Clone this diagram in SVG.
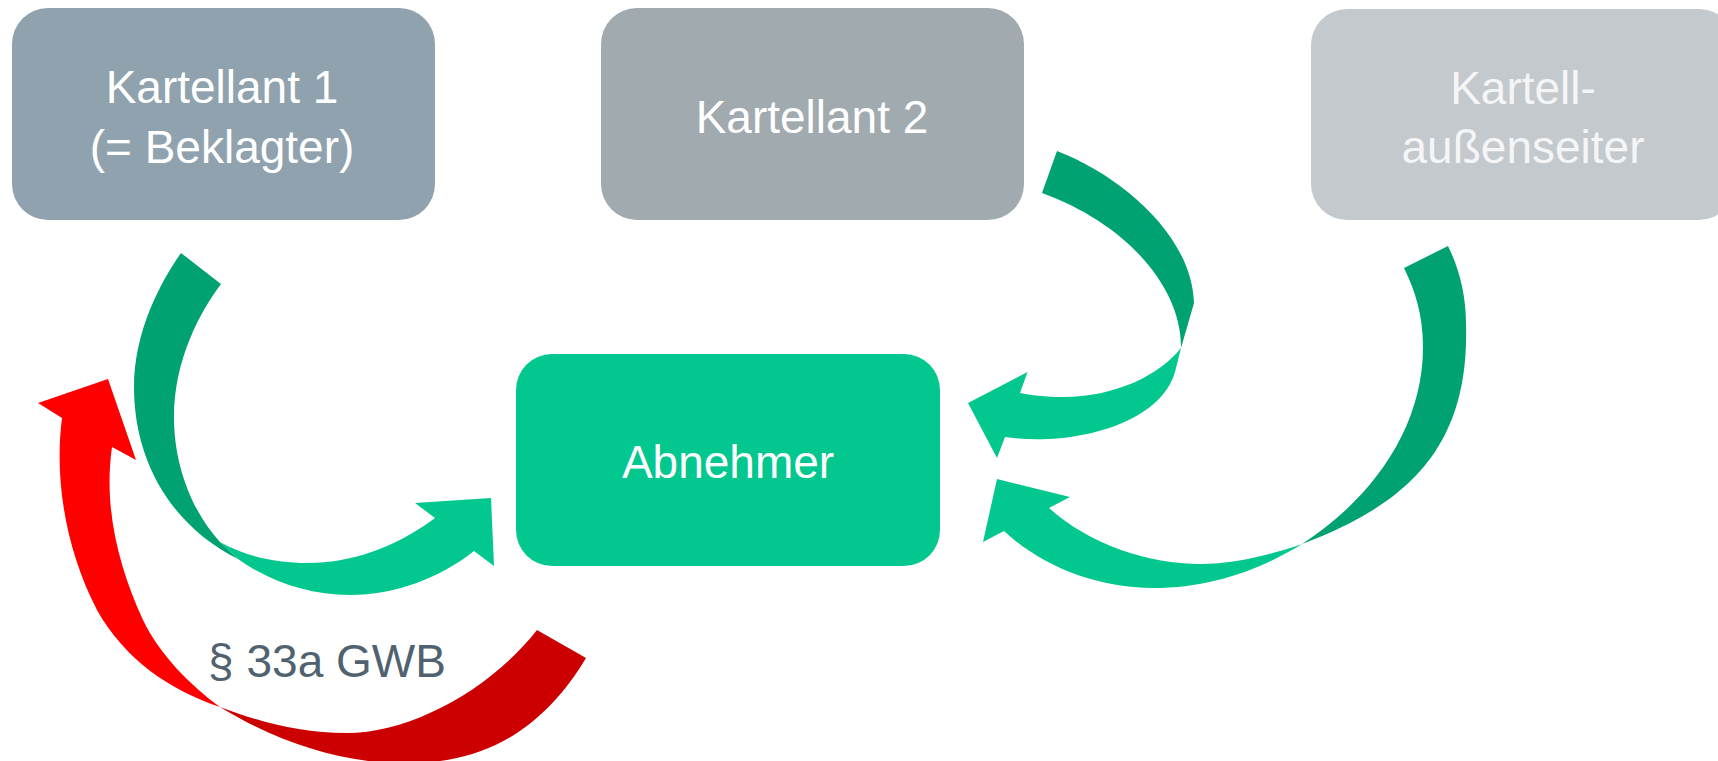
<svg xmlns="http://www.w3.org/2000/svg" width="1718" height="761" viewBox="0 0 1718 761">
<style>
  .lbl { font-family: "Liberation Sans", Arial, sans-serif; font-size: 46px; text-anchor: middle; fill: #ffffff; }
  .law { font-family: "Liberation Sans", Arial, sans-serif; font-size: 46px; text-anchor: middle; fill: #506270; }
  .back { fill: #00a271; }
  .front { fill: #02c78e; }
  .redf { fill: #ff0000; }
  .redb { fill: #cc0000; }
</style>
<rect width="1718" height="761" fill="#ffffff"/>
<g id="connectors">
  <g id="arrow-k1-abnehmer">
    <path class="back" d="M181,253 C162,280 134,330 134,387 C134,460 170,525 238,559 L220,542 C195,515 174,470 174,417 C174,360 200,312 221,284 Z"/>
    <path class="front" d="M220,542 C245,556 275,563 308,563 C350,563 395,548 435,518 L415,503 L491,498 L494,566 L474,551 C440,578 395,595 350,595 C310,595 270,582 238,559 Z"/>
  </g>
  <g id="arrow-k2-abnehmer">
    <path class="back" d="M1057,151 C1120,175 1192,235 1194,303 L1181,348 C1182,290 1130,225 1042,193 Z"/>
    <path class="front" d="M1181,348 C1160,375 1115,397 1063,397 C1045,397 1030,395 1020,393 L1027.5,372 L968,403 L997,458 L1005,437 C1070,447 1160,425 1175,372 Z"/>
  </g>
  <g id="arrow-aussen-abnehmer">
    <path class="back" d="M1448,246 C1459,268 1466,295 1466,323 C1470,450 1405,505 1302,544 C1370,500 1423,430 1423,347 C1423,315 1415,290 1404,268 Z"/>
    <path class="front" d="M1302,544 C1270,555 1235,564 1200,564 C1150,564 1090,545 1049,508 L1070,497 L997,479 L983,542 L1004,531 C1040,565 1095,588 1153,588 C1210,588 1260,570 1302,544 Z"/>
  </g>
  <g id="arrow-abnehmer-k1">
    <path class="redb" d="M220,707 C260,722 300,733 347,733 C410,733 490,690 537,630 L586,658 C555,710 510,750 447,760 C370,772 290,750 220,707 Z"/>
    <path class="redf" d="M220,707 C190,685 160,655 143,620 C120,570 103,510 112,447 L136,460 L108,379 L38,403 L62,418 C54,480 66,550 97,610 C125,660 170,690 220,707 Z"/>
    <text class="law" x="327" y="677">§ 33a GWB</text>
  </g>
</g>
<g id="node-kartellant1">
  <rect x="12" y="8" width="423" height="212" rx="36" fill="#8fa2ae"/>
  <text class="lbl" x="222" y="103">Kartellant 1</text>
  <text class="lbl" x="222" y="163">(= Beklagter)</text>
</g>
<g id="node-kartellant2">
  <rect x="601" y="8" width="423" height="212" rx="36" fill="#a0aaaf"/>
  <text class="lbl" x="812" y="133">Kartellant 2</text>
</g>
<g id="node-aussenseiter">
  <rect x="1311" y="9" width="424" height="211" rx="36" fill="#c4c9cd"/>
  <text class="lbl" x="1523" y="104" fill="#f4f5f6" style="fill:#f4f5f6">Kartell-</text>
  <text class="lbl" x="1523" y="163" style="fill:#f4f5f6">außenseiter</text>
</g>
<g id="node-abnehmer">
  <rect x="516" y="354" width="424" height="212" rx="36" fill="#02c78e"/>
  <text class="lbl" x="728" y="478">Abnehmer</text>
</g>
</svg>
